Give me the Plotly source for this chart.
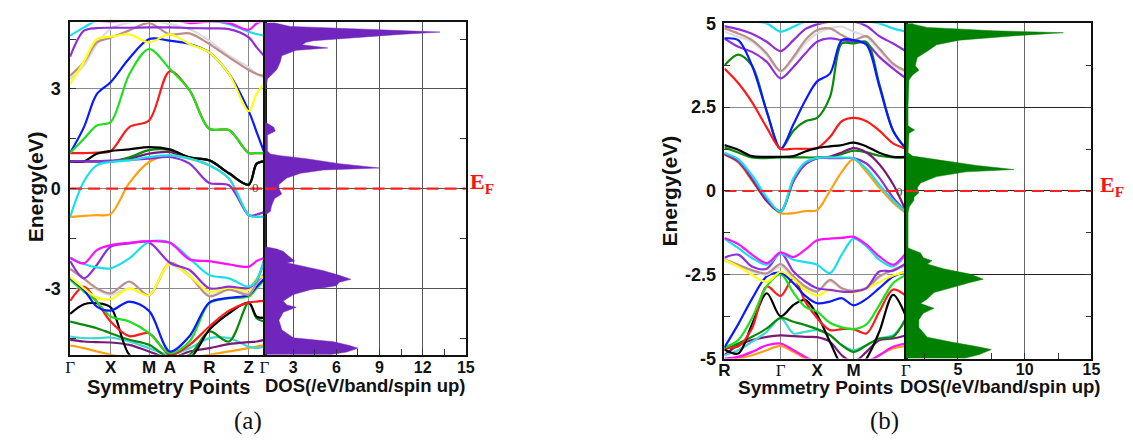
import plotly.graph_objects as go

W, H = 1133, 445

# ---------------- panel (a) : band structure ----------------
KA = [0, 14, 27, 41, 60, 80, 101, 121, 141, 161, 181, 189, 197]
KA_TICKS = [0, 41, 80, 101, 141, 181, 197]
KA_LABELS = ["Γ", "X", "M", "A", "R", "Z", "Γ"]

a_cyan_top = [4.6, 4.85, 5.05, 5.05, 5.05, 5.05, 5.05, 5.05, 5.05, 4.95, 4.72, 4.65, 4.6]
a_magenta_top = [5.1, 5.1, 5.05, 5.02, 5.05, 5.1, 5.1, 4.98, 5.02, 4.98, 4.78, 4.97, 5.05]
a_violet_top = [3.97, 4.75, 4.83, 4.84, 4.84, 4.85, 4.85, 4.83, 4.82, 4.8, 4.55, 4.25, 3.98]
a_gray_top = [3.3, 3.7, 4.35, 4.8, 5.0, 5.05, 4.95, 4.8, 4.45, 4.0, 3.65, 3.45, 3.32]
a_brown_top = [3.4, 3.8, 4.4, 4.54, 4.76, 4.98, 4.64, 4.67, 4.35, 3.95, 3.57, 3.45, 3.39]
a_blue_top = [1.07, 1.85, 2.84, 3.2, 3.92, 4.5, 4.45, 4.35, 4.1, 3.45, 2.33, 1.7, 1.07]
a_yellow_top = [3.15, 3.82, 4.5, 4.57, 4.64, 4.4, 4.64, 4.35, 4.1, 3.45, 2.33, 2.86, 3.15]
a_red_top = [1.07, 1.07, 1.08, 1.13, 1.85, 2.05, 3.53, 2.96, 1.8, 1.76, 1.07, 1.07, 1.07]
a_green_top = [1.07, 1.5, 1.9, 2.0, 3.44, 4.2, 3.6, 2.96, 1.8, 1.76, 1.07, 1.07, 1.07]
a_plum_mid = [0.82, 0.82, 0.82, 0.82, 0.9, 1.05, 1.1, 0.92, 0.85, 0.46, 0.12, 0.75, 0.82]
a_dkgreen_mid = [0.82, 0.82, 0.82, 0.82, 0.94, 1.16, 1.16, 0.94, 0.85, 0.46, 0.12, 0.75, 0.82]
a_black_mid = [0.82, 0.82, 1.05, 1.13, 1.18, 1.25, 1.18, 0.94, 0.85, 0.46, 0.12, 0.75, 0.82]
a_orange_mid = [-0.85, -0.82, -0.8, -0.77, 0.17, 0.8, 1.0, 0.9, 0.7, 0.3, -0.8, -0.85, -0.85]
a_violet_mid = [0.82, 0.82, 0.82, 0.84, 0.86, 0.9, 0.95, 0.75, 0.17, 0.1, -0.8, -0.78, -0.7]
a_cyan_mid = [-0.85, 0.22, 0.7, 0.8, 0.85, 0.95, 1.0, 0.9, 0.7, 0.3, -0.8, -0.85, -0.85]

a_orange_low = [-4.72, -4.8, -4.9, -5.0, -5.1, -5.2, -5.2, -5.1, -5.0, -4.9, -4.8, -4.75, -4.72]
a_turq_low = [-4.45, -4.5, -4.5, -4.48, -4.6, -4.8, -5.0, -4.8, -4.5, -4.5, -4.75, -4.8, -4.75]
a_plum_low = [-4.55, -4.6, -4.62, -4.63, -4.7, -4.9, -5.1, -4.9, -4.8, -4.68, -4.62, -4.6, -4.55]
a_dkgreen_low = [-4.0, -4.1, -4.2, -4.35, -4.55, -4.7, -5.1, -5.0, -4.3, -4.6, -3.43, -3.9, -4.0]
a_black_low = [-3.77, -3.48, -3.45, -3.57, -5.0, -5.3, -5.0, -5.1, -4.25, -3.75, -3.43, -3.85, -3.89]
a_red_low = [-3.38, -2.95, -3.4, -4.0, -4.44, -4.35, -5.0, -4.7, -4.15, -3.67, -3.43, -3.4, -3.38]
a_green_low = [-2.75, -3.1, -3.4, -3.85, -4.0, -4.35, -4.95, -4.6, -3.45, -3.3, -3.25, -3.0, -2.75]
a_blue_low = [-2.7, -3.05, -3.55, -3.67, -3.4, -3.68, -4.9, -4.44, -3.43, -3.29, -3.2, -2.95, -2.7]
a_gray_low = [-2.42, -2.71, -3.04, -3.2, -3.0, -3.2, -2.3, -2.65, -3.2, -3.0, -3.15, -2.85, -2.56]
a_brown_low = [-2.42, -2.71, -3.0, -3.15, -2.8, -3.21, -2.23, -2.61, -3.24, -3.04, -3.19, -2.85, -2.56]
a_yellow_low = [-2.66, -3.0, -3.28, -3.33, -3.0, -3.21, -2.25, -2.62, -3.1, -2.98, -3.05, -2.7, -2.66]
a_violet_low = [-2.18, -2.7, -2.3, -1.75, -1.65, -1.62, -2.23, -2.45, -3.0, -2.95, -2.99, -2.76, -2.13]
a_cyan_low = [-2.08, -2.27, -2.37, -2.4, -2.1, -1.6, -1.62, -2.1, -2.6, -2.7, -2.95, -2.76, -2.1]
a_magenta_low = [-2.08, -2.25, -1.85, -1.7, -1.63, -1.58, -1.63, -2.13, -2.18, -2.28, -2.35, -2.18, -2.08]

# ---------------- panel (a) : DOS ----------------
DOS_A_E = [5.0, 4.98, 4.88, 4.78, 4.71, 4.64, 4.54, 4.45, 4.4, 4.33, 4.23, 4.16, 4.0, 3.82, 3.58,
           3.44, 3.3, 2.96, 2.0, 1.85, 1.73, 1.61, 1.13, 1.04, 0.99, 0.9, 0.75, 0.62, 0.56, 0.46,
           0.32, 0.12, 0.0, -0.16, -0.3, -0.5, -0.69, -0.79, -1.75, -1.82, -1.89, -2.03, -2.18,
           -2.23, -2.32, -2.47, -2.61, -2.73, -2.82, -2.92, -3.04, -3.19, -3.38, -3.5, -3.57,
           -3.72, -3.96, -4.25, -4.49, -4.61, -4.72, -4.8, -4.92, -5.0]
DOS_A_V = [1.7, 1.74, 2.78, 8.5, 13.2, 10.4, 7.4, 4.4, 3.9, 3.6, 5.4, 3.2, 2.2, 2.1, 1.86,
           1.5, 1.2, 1.06, 1.06, 1.63, 1.75, 1.2, 1.2, 1.4, 2.1, 3.9, 6.2, 9.0, 5.1, 3.5,
           2.55, 2.0, 2.0, 2.2, 1.7, 1.5, 1.4, 1.06, 1.06, 1.86, 2.32, 2.67, 3.1,
           2.55, 3.5, 5.1, 6.2, 7.0, 6.2, 6.0, 4.2, 3.0, 2.3, 2.55, 3.2,
           2.3, 2.0, 2.2, 3.0, 5.8, 6.9, 7.5, 6.7, 5.5]

# ---------------- panel (b) : band structure ----------------
KB = [0, 14, 28, 43, 57, 70, 82, 94, 107, 119, 131, 144, 157, 171, 184]
KB_TICKS = [0, 57, 94, 131, 184]
KB_LABELS = ["R", "Γ", "X", "M", "Γ"]

b_cyan_top = [5.05, 5.05, 5.05, 5.0, 4.75, 4.9, 5.05, 5.05, 5.05, 5.05, 5.05, 5.05, 5.0, 4.85, 4.75]
b_violet_top = [4.92, 4.83, 4.69, 4.45, 4.17, 4.5, 4.83, 4.97, 5.05, 5.05, 5.05, 4.92, 4.62, 4.4, 4.17]
b_gray_top = [4.75, 4.6, 4.45, 4.05, 3.55, 3.95, 4.4, 4.7, 4.85, 4.9, 4.75, 4.6, 4.2, 3.75, 3.55]
b_brown_top = [4.85, 4.7, 4.5, 4.1, 3.58, 4.0, 4.5, 4.8, 4.85, 4.65, 4.5, 4.62, 4.25, 3.8, 3.58]
b_violet2_top = [4.55, 4.3, 4.15, 3.85, 3.36, 3.7, 4.1, 4.45, 4.55, 4.5, 4.45, 4.4, 4.0, 3.65, 3.36]
b_green_top = [3.74, 4.07, 3.74, 2.37, 1.26, 1.8, 2.08, 2.18, 2.8, 4.4, 4.4, 4.45, 3.2, 1.8, 1.26]
b_blue_top = [4.55, 4.5, 3.74, 2.37, 1.26, 1.99, 2.7, 3.27, 3.5, 4.5, 4.5, 4.36, 3.13, 1.8, 1.26]
b_red_top = [3.65, 3.22, 2.65, 1.89, 1.26, 1.26, 1.26, 1.28, 1.61, 2.08, 2.18, 2.08, 1.8, 1.42, 1.26]
b_dkgreen_mid = [1.3, 1.15, 1.0, 0.98, 1.0, 1.0, 1.0, 1.0, 1.02, 1.1, 1.2, 1.15, 1.05, 1.0, 1.0]
b_black_mid = [1.37, 1.23, 1.04, 1.02, 1.02, 1.04, 1.18, 1.28, 1.33, 1.37, 1.44, 1.33, 1.14, 1.02, 1.02]
b_orange_mid = [1.08, 0.85, 0.3, -0.3, -0.66, -0.66, -0.6, -0.57, 0.0, 0.57, 0.95, 0.57, 0.1, -0.35, -0.66]
b_plum_mid = [1.1, 0.88, 0.35, -0.3, -0.62, 0.3, 0.8, 0.98, 1.02, 1.15, 1.28, 1.15, 0.8, 0.2, -0.6]
b_violet_mid = [1.12, 0.9, 0.4, -0.25, -0.6, 0.3, 0.8, 0.98, 0.98, 0.98, 0.98, 0.82, 0.4, -0.2, -0.62]
b_cyan_mid = [1.14, 0.95, 0.47, -0.19, -0.62, 0.38, 0.85, 0.99, 1.0, 1.0, 0.97, 0.66, 0.19, -0.28, -0.62]

b_orange_low = [-5.1, -5.0, -4.9, -4.75, -4.62, -4.8, -5.0, -5.2, -5.2, -5.2, -5.2, -5.2, -4.9, -4.7, -4.62]
b_magenta_low2 = [-5.0, -4.95, -4.8, -4.6, -4.55, -4.75, -4.95, -5.1, -5.2, -5.2, -5.2, -5.1, -4.9, -4.65, -4.55]
b_plum_low = [-4.9, -4.6, -4.45, -4.35, -4.31, -4.33, -4.35, -4.36, -4.5, -4.9, -5.1, -4.8, -4.45, -4.4, -4.31]
b_turq_low = [-4.9, -4.75, -4.5, -4.2, -3.79, -4.25, -4.2, -4.15, -4.3, -4.6, -4.75, -4.6, -4.4, -4.3, -3.85]
b_dkgreen_low = [-4.73, -4.55, -4.35, -4.1, -3.79, -3.9, -4.0, -4.12, -4.3, -4.6, -4.8, -4.6, -4.4, -4.35, -3.79]
b_black_low = [-4.73, -4.85, -3.98, -3.05, -3.74, -3.4, -3.25, -3.7, -4.5, -5.2, -5.4, -5.0, -4.2, -3.1, -3.74]
b_red_low = [-4.67, -4.64, -4.1, -2.85, -3.13, -2.6, -3.3, -3.79, -4.15, -4.12, -4.12, -4.25, -3.6, -2.94, -3.13]
b_green_low = [-4.67, -4.45, -3.79, -2.84, -2.48, -3.03, -3.46, -3.6, -3.93, -4.07, -4.12, -3.98, -3.41, -2.75, -2.51]
b_blue_low = [-4.67, -3.98, -3.22, -2.55, -2.44, -2.75, -3.13, -3.35, -3.3, -3.2, -3.41, -3.22, -2.9, -2.55, -2.41]
b_gray_low = [-2.08, -2.25, -2.4, -2.5, -2.25, -2.6, -2.88, -2.98, -2.7, -2.92, -2.98, -2.88, -2.58, -2.38, -2.25]
b_brown_low = [-2.04, -2.2, -2.36, -2.46, -2.18, -2.55, -2.85, -3.0, -2.65, -2.9, -2.98, -2.9, -2.55, -2.35, -2.2]
b_yellow_low = [-2.05, -2.25, -2.5, -2.72, -2.41, -2.62, -2.95, -3.12, -2.95, -3.0, -3.03, -2.9, -2.72, -2.52, -2.41]
b_violet_low = [-1.99, -1.9, -2.25, -2.32, -1.85, -2.4, -2.7, -2.9, -2.95, -3.0, -3.0, -2.9, -2.4, -2.38, -2.15]
b_cyan_low = [-1.42, -1.7, -2.0, -2.2, -1.88, -2.05, -2.12, -2.2, -2.45, -1.9, -1.42, -1.65, -2.05, -2.25, -1.9]
b_magenta_low = [-1.4, -1.58, -1.9, -2.15, -1.83, -1.97, -1.75, -1.47, -1.42, -1.4, -1.37, -1.6, -1.95, -2.2, -1.85]

# ---------------- panel (b) : DOS ----------------
DOS_B_E = [5.0, 4.97, 4.88, 4.78, 4.72, 4.64, 4.5, 4.36, 4.17, 3.98, 3.74, 3.6, 3.46, 3.31, 2.56,
           1.95, 1.89, 1.82, 1.72, 1.14, 1.04, 0.95, 0.76, 0.64, 0.57, 0.43, 0.24, 0.1, -0.05,
           -0.19, -0.28, -0.47, -0.66, -1.7, -1.78, -1.85, -1.99, -2.08, -2.18, -2.32, -2.48,
           -2.63, -2.73, -2.89, -3.03, -3.22, -3.36, -3.5, -3.65, -3.84, -4.07, -4.36, -4.5,
           -4.64, -4.73, -4.88, -4.97, -5.0]
DOS_B_V = [1.6, 1.7, 2.7, 7.6, 12.9, 9.6, 5.1, 3.4, 2.7, 1.95, 1.8, 2.07, 1.6, 1.33, 1.26,
           1.26, 1.45, 1.75, 1.33, 1.26, 1.6, 3.2, 6.4, 9.2, 5.6, 3.4, 2.2, 1.95, 2.07,
           1.7, 1.7, 1.35, 1.26, 1.26, 1.7, 2.2, 2.4, 3.05, 2.7, 3.9, 5.9,
           6.9, 5.9, 4.4, 3.2, 2.7, 2.2, 3.2, 2.4, 2.07, 2.07, 2.7, 4.4,
           6.4, 7.5, 6.6, 5.6, 5.4]

DOS_A_TICKS = [3, 6, 9, 12, 15]
DOS_B_TICKS = [5, 10, 15]

# ---------------- styles ----------------
C = {
    "black": "#000000", "red": "#ff1a1a", "lime": "#1ee01e", "blue": "#0a1aff",
    "yellow": "#ffff10", "brown": "#bc8f8f", "gray": "#dcdcdc", "violet": "#8f2fd8",
    "cyan": "#18e0e8", "magenta": "#ff10ff", "orange": "#ffa010", "plum": "#7a1a78",
    "turq": "#40d8d0", "dkgreen": "#0a8a0a",
}
SANS = "Liberation Sans, Arial, sans-serif"
SERIF = "Liberation Serif, Times New Roman, serif"

bands_a = [
    (a_cyan_top, "cyan"), (a_magenta_top, "magenta"), (a_gray_top, "gray"), (a_brown_top, "brown"),
    (a_violet_top, "violet"), (a_blue_top, "blue"), (a_yellow_top, "yellow"), (a_red_top, "red"),
    (a_green_top, "lime"), (a_plum_mid, "plum"), (a_dkgreen_mid, "dkgreen"), (a_black_mid, "black"),
    (a_orange_mid, "orange"), (a_violet_mid, "violet"), (a_cyan_mid, "cyan"),
    (a_orange_low, "orange"), (a_turq_low, "turq"), (a_plum_low, "plum"), (a_dkgreen_low, "dkgreen"),
    (a_black_low, "black"), (a_red_low, "red"), (a_green_low, "lime"), (a_blue_low, "blue"),
    (a_gray_low, "gray"), (a_brown_low, "brown"), (a_yellow_low, "yellow"), (a_violet_low, "violet"),
    (a_cyan_low, "cyan"), (a_magenta_low, "magenta"),
]
bands_b = [
    (b_cyan_top, "cyan"), (b_gray_top, "gray"), (b_brown_top, "brown"), (b_violet_top, "violet"),
    (b_violet2_top, "violet"), (b_green_top, "dkgreen"), (b_blue_top, "blue"), (b_red_top, "red"),
    (b_dkgreen_mid, "dkgreen"), (b_black_mid, "black"), (b_orange_mid, "orange"), (b_plum_mid, "plum"),
    (b_violet_mid, "violet"), (b_cyan_mid, "cyan"),
    (b_orange_low, "orange"), (b_magenta_low2, "magenta"), (b_plum_low, "plum"), (b_turq_low, "turq"),
    (b_dkgreen_low, "dkgreen"), (b_black_low, "black"), (b_red_low, "red"), (b_green_low, "lime"),
    (b_blue_low, "blue"), (b_gray_low, "gray"), (b_brown_low, "brown"), (b_yellow_low, "yellow"),
    (b_violet_low, "violet"), (b_cyan_low, "cyan"), (b_magenta_low, "magenta"),
]


def px(x):
    return x / W


def py(y):
    return 1 - y / H


fig = go.Figure()

for vals, col in bands_a:
    fig.add_trace(go.Scatter(x=KA, y=vals, mode="lines", xaxis="x", yaxis="y",
                             line=dict(color=C[col], width=2.2, shape="spline", smoothing=0.9),
                             hoverinfo="skip", showlegend=False))
for vals, col in bands_b:
    fig.add_trace(go.Scatter(x=KB, y=vals, mode="lines", xaxis="x3", yaxis="y3",
                             line=dict(color=C[col], width=2.2, shape="spline", smoothing=0.9),
                             hoverinfo="skip", showlegend=False))

fig.add_trace(go.Scatter(x=DOS_A_V, y=DOS_A_E, mode="lines", xaxis="x2", yaxis="y2",
                         fill="tozerox", fillcolor="#7026bd", line=dict(color="#7026bd", width=0.5),
                         hoverinfo="skip", showlegend=False))
fig.add_trace(go.Scatter(x=DOS_B_V, y=DOS_B_E, mode="lines", xaxis="x4", yaxis="y4",
                         fill="tozerox", fillcolor="#008000", line=dict(color="#008000", width=0.5),
                         hoverinfo="skip", showlegend=False))

# Fermi level (dashed red)
for xa, ya, xr in [("x", "y", [KA[0], KA[-1]]), ("x2", "y2", [1, 15]),
                   ("x3", "y3", [KB[0], KB[-1]]), ("x4", "y4", [1.1, 15])]:
    fig.add_trace(go.Scatter(x=xr, y=[0, 0], mode="lines", xaxis=xa, yaxis=ya,
                             line=dict(color="#ff2020", width=2.2, dash="12px,6px"),
                             hoverinfo="skip", showlegend=False))


def klabels(labels):
    out = []
    for lab in labels:
        if lab == "Γ":
            out.append("<span style='font-family:Liberation Serif;font-weight:normal'>Γ</span>")
        else:
            out.append("<b>%s</b>" % lab)
    return out


frame = dict(showline=True, linecolor="#111", linewidth=1.5, mirror=True, zeroline=False)
kfont = dict(family=SANS, size=17, color="#111")
dfont = dict(family=SANS, size=16, color="#111")
efont = dict(family=SANS, size=18, color="#111")
mtick = dict(ticks="inside", ticklen=6, tickcolor="#333")

fig.update_layout(
    xaxis=dict(domain=[px(65), px(262)], anchor="y", range=[KA[0], KA[-1]], tickmode="array",
               tickvals=KA_TICKS, ticktext=klabels(KA_LABELS), ticks="", showgrid=True,
               gridcolor="#8a8a8a", gridwidth=1, tickfont=kfont, ticklabelstandoff=-4, **frame),
    yaxis=dict(domain=[py(361), py(13)], anchor="x", range=[-5, 5], tickmode="array",
               tickvals=[-3, 0, 3], ticktext=["<b>-3</b>", "<b>0</b>", "<b>3</b>"],
               minor=dict(tickvals=[-4.5, -1.5, 1.5, 4.5], **mtick), ticklabelstandoff=4,
               showgrid=True, gridcolor="#8a8a8a", tickfont=efont, **mtick, **frame),
    xaxis2=dict(domain=[px(262), px(466)], anchor="y2", range=[1, 15], tickmode="array",
                tickvals=DOS_A_TICKS, ticktext=["<b>%d</b>" % t for t in DOS_A_TICKS],
                minor=dict(tickvals=[4.5, 7.5, 10.5, 13.5], **mtick), ticklabelstandoff=-3,
                showgrid=True, gridcolor="#555", tickfont=dfont, **mtick, **frame),
    yaxis2=dict(domain=[py(361), py(13)], anchor="x2", range=[-5, 5], side="right",
                tickmode="array", tickvals=[-3, 0, 3], showticklabels=False,
                minor=dict(tickvals=[-4.5, -1.5, 1.5, 4.5], **mtick),
                showgrid=True, gridcolor="#555", **mtick, **frame),
    xaxis3=dict(domain=[px(728), px(912)], anchor="y3", range=[KB[0], KB[-1]], tickmode="array",
                tickvals=KB_TICKS, ticktext=klabels(KB_LABELS), ticks="", showgrid=True,
                gridcolor="#8a8a8a", tickfont=kfont, ticklabelstandoff=-5, **frame),
    yaxis3=dict(domain=[py(365), py(14)], anchor="x3", range=[-5, 5], tickmode="array",
                tickvals=[-5, -2.5, 0, 2.5, 5],
                ticktext=["<b>-5</b>", "<b>-2.5</b>", "<b>0</b>", "<b>2.5</b>", "<b>5</b>"],
                minor=dict(tickvals=[-3.75, -1.25, 1.25, 3.75], **mtick), ticklabelstandoff=3,
                showgrid=True, gridcolor="#8a8a8a", tickfont=efont, **mtick, **frame),
    xaxis4=dict(domain=[px(912), px(1100)], anchor="y4", range=[1.1, 15], tickmode="array",
                tickvals=DOS_B_TICKS, ticktext=["<b>%d</b>" % t for t in DOS_B_TICKS],
                minor=dict(tickvals=[2.5, 7.5, 12.5], **mtick), ticklabelstandoff=-5,
                showgrid=True, gridcolor="#666", tickfont=dfont, **mtick, **frame),
    yaxis4=dict(domain=[py(365), py(14)], anchor="x4", range=[-5, 5], side="right",
                tickmode="array", tickvals=[-2.5, 0, 2.5], showticklabels=False,
                minor=dict(tickvals=[-3.75, -1.25, 1.25, 3.75], **mtick),
                showgrid=True, gridcolor="#222", **mtick, **frame),
)

ann = []


def text(x, y, s, size, family=SANS, color="#111", angle=0):
    ann.append(dict(x=px(x), y=py(y), xref="paper", yref="paper", text=s, showarrow=False,
                    textangle=angle, xanchor="center", yanchor="middle",
                    font=dict(family=family, size=size, color=color)))


text(30, 185, "<b>Energy(eV)</b>", 21, angle=-90)
text(165, 395, "<b>Symmetry Points</b>", 20)
text(364, 393, "<b>DOS(/eV/band/spin up)</b>", 18.5)
text(245, 430, "(a)", 25, family=SERIF)
text(482, 181, "<b>E<sub>F</sub></b>", 22, family=SERIF, color="#ff1010")
text(253, 186, "0", 13, family=SERIF, color="#444")

text(672, 190, "<b>Energy(eV)</b>", 21, angle=-90)
text(820, 395, "<b>Symmetry Points</b>", 19)
text(1007, 394, "<b>DOS(/eV/band/spin up)</b>", 18.5)
text(890, 430, "(b)", 25, family=SERIF)
text(1121, 184, "<b>E<sub>F</sub></b>", 22, family=SERIF, color="#ff1010")
text(905, 190, "0", 13, family=SERIF, color="#444")

fig.update_layout(annotations=ann, width=W, height=H, autosize=False,
                  margin=dict(l=0, r=0, t=0, b=0), paper_bgcolor="white", plot_bgcolor="white",
                  showlegend=False)

fig.write_html("out.html")
